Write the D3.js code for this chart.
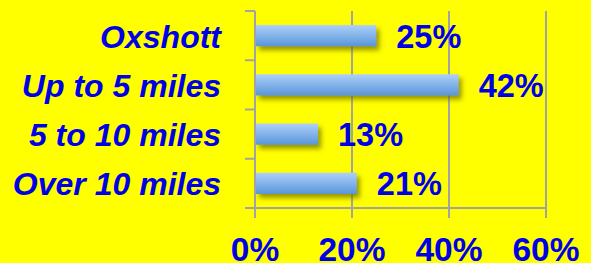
<!DOCTYPE html>
<html>
<head>
<meta charset="utf-8">
<script src="https://cdn.jsdelivr.net/npm/d3@7"></script>
<style>
  html, body { margin: 0; padding: 0; background: #ffff00; }
  svg { display: block; }
</style>
</head>
<body>
<script>
  // --- Data
  var categories = ['Oxshott', 'Up to 5 miles', '5 to 10 miles', 'Over 10 miles'];
  var values = [25, 42, 13, 21];
  var tickValues = [0, 20, 40, 60];

  var width = 591, height = 263;
  var margin = {top: 11, left: 255, right: 45, bottom: 55};

  var svg = d3.select('body').append('svg')
    .attr('width', width)
    .attr('height', height);

  svg.append('rect').attr('width', width).attr('height', height).attr('fill', '#ffff00');

  var defs = svg.append('defs');
  var grad = defs.append('linearGradient')
    .attr('id', 'barGrad')
    .attr('x1', 0).attr('y1', 0).attr('x2', 0).attr('y2', 1);
  grad.append('stop').attr('offset', '0%').attr('stop-color', '#add0fb');
  grad.append('stop').attr('offset', '100%').attr('stop-color', '#5996d8');

  var shadow = defs.append('filter')
    .attr('id', 'shadow')
    .attr('x', '-10%').attr('y', '-30%').attr('width', '130%').attr('height', '190%');
  shadow.append('feDropShadow')
    .attr('dx', 3).attr('dy', 4).attr('stdDeviation', 2.5)
    .attr('flood-color', '#6b6b00').attr('flood-opacity', 0.7);

  var x = d3.scaleLinear().domain([0, 60]).range([margin.left, width - margin.right]);
  var y = d3.scaleBand().domain(categories)
    .range([margin.top, height - margin.bottom])
    .paddingInner(0.57).paddingOuter(0.285);
  var yOuter = d3.scaleBand().domain(categories).range([margin.top, height - margin.bottom]);

  var gridColor = '#a3a3a3';

  // --- Vertical gridlines
  svg.selectAll('.grid').data(tickValues.slice(1)).enter()
    .append('line')
    .attr('class', 'grid')
    .attr('x1', function(d){ return x(d); })
    .attr('x2', function(d){ return x(d); })
    .attr('y1', margin.top)
    .attr('y2', height - margin.bottom + 10)
    .attr('stroke', gridColor)
    .attr('stroke-width', 2);

  // --- Bars
  svg.selectAll('.bar').data(values).enter()
    .append('rect')
    .attr('class', 'bar')
    .attr('x', x(0) + 1)
    .attr('y', function(d, i){ return y(categories[i]); })
    .attr('width', function(d){ return x(d) - x(0) - 1; })
    .attr('height', y.bandwidth())
    .attr('fill', 'url(#barGrad)')
    .attr('filter', 'url(#shadow)');

  // --- Axes lines
  var bottomY = height - margin.bottom;
  svg.append('line')
    .attr('x1', x(0)).attr('x2', x(0))
    .attr('y1', margin.top).attr('y2', bottomY + 10)
    .attr('stroke', gridColor).attr('stroke-width', 2);
  svg.append('line')
    .attr('x1', x(0) - 10).attr('x2', x(60))
    .attr('y1', bottomY).attr('y2', bottomY)
    .attr('stroke', gridColor).attr('stroke-width', 2);

  // --- Category ticks
  var catTicks = categories.map(function(c){ return yOuter(c); });
  svg.selectAll('.ctick').data(catTicks).enter()
    .append('line')
    .attr('x1', x(0) - 10).attr('x2', x(0))
    .attr('y1', function(d){ return d; })
    .attr('y2', function(d){ return d; })
    .attr('stroke', gridColor).attr('stroke-width', 2);

  var textColor = '#0000e6';

  // --- Category labels
  svg.selectAll('.clabel').data(categories).enter()
    .append('text')
    .attr('x', 221)
    .attr('y', function(d){ return y(d) + y.bandwidth() / 2 + 12; })
    .attr('text-anchor', 'end')
    .attr('font-family', 'Liberation Sans, Arial, sans-serif')
    .attr('font-weight', 'bold')
    .attr('font-style', 'italic')
    .attr('font-size', '32px')
    .attr('fill', textColor)
    .text(function(d){ return d; });

  // --- Value labels
  svg.selectAll('.vlabel').data(values).enter()
    .append('text')
    .attr('x', function(d){ return x(d) + 20; })
    .attr('y', function(d, i){ return y(categories[i]) + y.bandwidth() / 2 + 12; })
    .attr('font-family', 'Liberation Sans, Arial, sans-serif')
    .attr('font-weight', 'bold')
    .attr('font-size', '32.5px')
    .attr('fill', textColor)
    .text(function(d){ return d + '%'; });

  // --- X tick labels
  svg.selectAll('.xlabel').data(tickValues).enter()
    .append('text')
    .attr('x', function(d){ return x(d); })
    .attr('y', 261)
    .attr('text-anchor', 'middle')
    .attr('font-family', 'Liberation Sans, Arial, sans-serif')
    .attr('font-weight', 'bold')
    .attr('font-size', '33.5px')
    .attr('fill', textColor)
    .text(function(d){ return d + '%'; });
</script>
</body>
</html>
